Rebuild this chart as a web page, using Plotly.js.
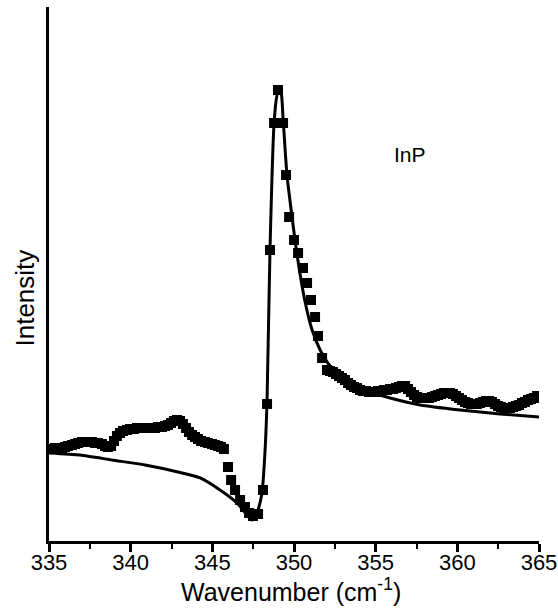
<!DOCTYPE html>
<html>
<head>
<meta charset="utf-8">
<script src="https://cdn.plot.ly/plotly-3.0.1.min.js"></script>
<style>html,body{margin:0;padding:0;background:#fff;}#chart{width:558px;height:610px;}</style>
</head>
<body>
<div id="chart"></div>
<script>
// Measured spectrum (squares)
var dataX = [335.00,335.18,335.37,335.55,335.80,335.98,336.16,336.41,336.59,336.78,337.02,337.20,337.39,337.63,337.82,338.00,338.24,338.43,338.61,338.80,338.98,339.16,339.35,339.53,339.78,339.96,340.20,340.39,340.63,340.82,341.06,341.24,341.49,341.67,341.92,342.10,342.29,342.47,342.65,342.84,343.02,343.20,343.39,343.57,343.76,343.94,344.12,344.31,344.55,344.73,344.98,345.16,345.35,345.53,345.71,
  345.96,346.15,346.39,346.70,347.00,347.25,347.49,347.80,348.10,348.35,348.53,348.78,349.02,349.33,349.51,349.70,350.00,350.25,350.55,350.80,351.04,351.29,351.47,351.72,
  352.02,352.20,352.39,352.57,352.76,352.94,353.12,353.31,353.49,353.67,353.86,354.04,354.22,354.41,354.59,354.78,354.96,355.14,355.33,355.51,355.69,355.88,356.06,356.24,356.43,356.61,356.80,356.98,357.16,357.35,357.53,357.71,357.90,358.08,358.27,358.45,358.63,358.82,359.00,359.18,359.37,359.55,359.73,359.92,360.10,360.29,360.47,360.65,360.84,361.02,361.20,361.39,361.57,361.76,361.94,362.12,362.31,362.49,362.67,362.86,363.04,363.22,363.41,363.59,363.78,363.96,364.14,364.33,364.51,364.69,364.88];
var dataY = [17.23,17.23,17.42,17.42,17.42,17.60,17.79,17.98,18.16,18.35,18.54,18.54,18.54,18.54,18.35,18.35,18.16,17.79,17.60,17.79,18.73,19.66,20.22,20.60,20.79,20.97,20.97,21.16,21.16,21.16,21.16,21.16,21.16,21.35,21.35,21.54,21.72,22.10,22.47,22.66,22.47,21.91,21.16,20.41,19.85,19.48,19.10,18.73,18.54,18.35,18.16,17.98,17.79,17.60,17.23,
  13.86,11.42,9.55,7.68,6.37,5.24,4.68,5.06,9.55,25.66,54.49,78.28,84.46,78.28,68.54,60.67,56.37,53.93,51.12,48.31,45.13,41.95,38.39,34.27,
  32.02,31.84,31.65,31.27,30.90,30.52,30.15,29.59,29.21,28.84,28.65,28.28,28.09,28.09,27.90,27.90,27.90,28.09,28.09,28.28,28.28,28.46,28.46,28.65,28.84,29.03,29.03,28.46,27.90,27.34,26.97,26.78,26.78,26.78,26.78,26.97,27.15,27.34,27.53,27.72,27.72,27.72,27.53,27.15,26.78,26.40,26.03,25.84,25.66,25.66,25.66,25.84,26.03,26.22,26.22,26.03,25.66,25.28,25.09,24.91,24.91,24.91,25.09,25.28,25.47,25.84,26.03,26.40,26.59,26.78,27.15];
// Fitted curve (solid line)
var fitX = [335.00,336.90,338.86,340.88,342.90,344.25,345.47,346.51,347.12,347.43,347.61,347.80,348.04,348.23,348.35,348.53,348.78,348.96,349.08,349.21,349.33,349.57,349.88,350.19,350.68,351.11,351.60,352.21,353.13,354.23,355.88,357.72,360.17,362.62,365.00];
var fitY = [16.48,16.10,15.17,14.23,12.92,11.80,9.55,7.12,4.87,3.93,4.31,5.81,8.99,17.04,26.40,54.49,78.28,83.52,84.64,84.08,79.21,68.54,60.67,53.56,44.76,39.51,35.77,32.77,30.15,28.28,26.78,25.47,24.53,23.78,23.22];
var xTicks = [335,340,345,350,355,360,365];
var xTitle = "Wavenumber (cm<sup>-1</sup>)";
var yTitle = "Intensity";
var labelText = "InP";
var labelX = 357.1, labelY = 72.3;

var font = "Liberation Sans, Arial, Helvetica, sans-serif";
var traces = [
  {x: fitX, y: fitY, mode: "lines", type: "scatter",
   line: {color: "#000", width: 3, shape: "spline", smoothing: 0.6}, hoverinfo: "none"},
  {x: dataX, y: dataY, mode: "markers", type: "scatter",
   marker: {symbol: "square", size: 10, color: "#000"}, hoverinfo: "none"}
];
var layout = {
  width: 558, height: 610,
  margin: {l: 49, r: 19, t: 7, b: 69},
  paper_bgcolor: "#fff", plot_bgcolor: "#fff",
  showlegend: false,
  font: {family: font, color: "#000"},
  xaxis: {
    range: [335, 365], tickvals: xTicks, ticktext: xTicks.map(String),
    showline: true, linecolor: "#000", linewidth: 3,
    ticks: "outside", ticklen: 8, tickwidth: 3, tickcolor: "#000",
    ticklabelstandoff: -8,
    minor: {dtick: 2.5, tick0: 335, ticks: "outside", ticklen: 5, tickwidth: 2, tickcolor: "#000"},
    showgrid: false, zeroline: false,
    tickfont: {size: 22, family: font}
  },
  yaxis: {
    range: [0, 100], showticklabels: false, ticks: "",
    showline: true, linecolor: "#000", linewidth: 3,
    showgrid: false, zeroline: false
  },
  annotations: [
    {x: labelX, y: labelY, xref: "x", yref: "y", text: labelText, showarrow: false,
     font: {size: 21, family: font, color: "#000"}},
    {x: 0.494, y: -0.092, xref: "paper", yref: "paper", xanchor: "center", yanchor: "middle",
     text: xTitle, showarrow: false, font: {size: 25, family: font, color: "#000"}},
    {x: -0.048, y: 0.455, xref: "paper", yref: "paper", xanchor: "center", yanchor: "middle",
     textangle: -90, text: yTitle, showarrow: false, font: {size: 26, family: font, color: "#000"}}
  ]
};
Plotly.newPlot("chart", traces, layout, {staticPlot: true});
</script>
</body>
</html>
